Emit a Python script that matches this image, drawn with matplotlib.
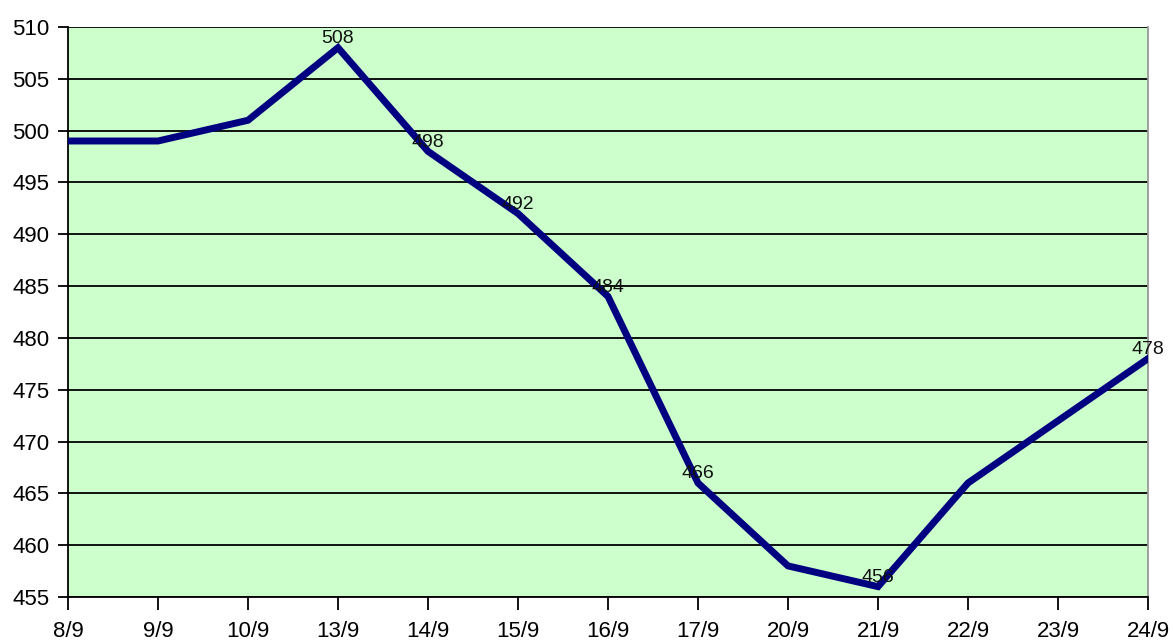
import matplotlib
matplotlib.use("Agg")
import matplotlib.pyplot as plt

categories = ["8/9", "9/9", "10/9", "13/9", "14/9", "15/9", "16/9",
              "17/9", "20/9", "21/9", "22/9", "23/9", "24/9"]
values = [499, 499, 501, 508, 498, 492, 484, 466, 458, 456, 466, 472, 478]
labeled = ["13/9", "14/9", "15/9", "16/9", "17/9", "21/9", "24/9"]
y_ticks = [455, 460, 465, 470, 475, 480, 485, 490, 495, 500, 505, 510]

plt.rcParams['font.family'] = ['Liberation Sans', 'DejaVu Sans']

fig = plt.figure(figsize=(11.73, 6.4), dpi=100)
ax = fig.add_axes([68/1173, 43/640, (1148-68)/1173, (597-27)/640])
ax.set_facecolor("#CCFFCC")

x = list(range(len(categories)))
for yt in y_ticks:
    ax.axhline(yt, color="black", lw=1.3, zorder=1)
ax.plot(x, values, color="#000080", lw=5, solid_joinstyle="miter", zorder=3)

for i, (c, v) in enumerate(zip(categories, values)):
    if c in labeled:
        ax.annotate(str(v), (i, v), xytext=(0, 3.5), textcoords="offset points",
                    ha="center", va="baseline", fontsize=14, color="#111111", zorder=4)

ax.set_xlim(0, len(categories) - 1)
ax.set_ylim(455, 510)
ax.set_xticks(x)
ax.set_xticklabels(categories)
ax.set_yticks(y_ticks)
ax.tick_params(axis="both", direction="out", width=1.3, labelsize=16,
               colors="black")
ax.tick_params(axis="x", length=9, pad=8)
ax.tick_params(axis="y", length=7.5, pad=6)
for s in ["left", "bottom"]:
    ax.spines[s].set_color("black")
    ax.spines[s].set_linewidth(1.3)
ax.spines["top"].set_visible(False)
ax.spines["right"].set_color("#999999")
ax.spines["right"].set_linewidth(1.3)

fig.savefig("out.png", dpi=100, facecolor="white")
